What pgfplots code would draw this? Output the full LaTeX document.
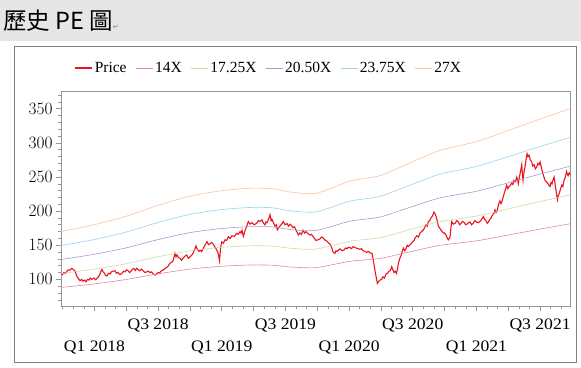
\documentclass[border=0pt]{standalone}
\usepackage{fontspec}
\setmainfont{Liberation Serif}
\newfontfamily\cjk{Noto Sans CJK TC}
\newfontfamily\tickfont{Liberation Serif}[FakeStretch=1.1]
\newfontfamily\symfont{DejaVu Sans}
\usepackage{pgfplots}
\usepackage{pgfplotstable}
\pgfplotsset{compat=1.18}
\definecolor{barbg}{RGB}{230,230,230}
\definecolor{framegray}{RGB}{128,128,128}
\definecolor{axisgray}{RGB}{150,150,150}
\definecolor{pricered}{RGB}{235,20,30}
\definecolor{cA}{RGB}{222,140,155}
\definecolor{cB}{RGB}{208,218,160}
\definecolor{cC}{RGB}{165,155,210}
\definecolor{cD}{RGB}{155,210,235}
\definecolor{cE}{RGB}{248,195,165}

\pgfplotstableread{
x        pA     pB     pC     pD     pE
2017.737 88.15  108.61 129.07 149.54 170.0
2017.996 93.33  115.00 136.67 158.33 180.0
2018.240 99.56  122.67 145.78 168.89 192.0
2018.491 107.85 132.89 157.93 182.96 208.0
2018.750 115.11 141.83 168.56 195.28 222.0
2019.002 119.26 146.94 174.63 202.31 230.0
2019.222 121.07 149.18 177.29 205.39 233.5
2019.394 120.81 148.86 176.91 204.95 233.0
2019.536 118.22 145.67 173.11 200.56 228.0
2019.740 117.19 144.39 171.59 198.80 226.0
2020.007 126.52 155.89 185.26 214.63 244.0
2020.243 130.67 161.00 191.33 221.67 252.0
2020.494 141.04 173.78 206.52 239.26 272.0
2020.714 149.85 184.64 219.43 254.21 289.0
2021.005 156.59 192.94 229.30 265.65 302.0
2021.248 164.89 203.17 241.44 279.72 318.0
2021.500 173.70 214.03 254.35 294.68 335.0
2021.735 181.48 223.61 265.74 307.87 350.0
}\bands

\begin{document}
\begin{tikzpicture}
\useasboundingbox (0pt,0pt) rectangle (581pt,367pt);
\fill[barbg] (0pt,326pt) rectangle (581pt,367pt);
\node[anchor=base west, inner sep=0pt, font=\cjk\fontsize{23.5}{23.5}\selectfont] at (3pt,337pt) {歷史 PE 圖{\symfont\fontsize{7}{7}\selectfont\color{gray}↵}};
\draw[framegray, line width=0.8pt] (14pt,5pt) rectangle (576pt,321pt);
\begin{axis}[
  at={(61pt,61pt)}, anchor=south west,
  scale only axis, width=509pt, height=215pt,
  xmin=2017.737, xmax=2021.735, ymin=61, ymax=376,
  axis line style={axisgray, line width=0.8pt},
  tick style={axisgray, line width=0.6pt},
  tick align=outside, major tick length=5pt, minor tick length=3pt,
  xtick pos=left, ytick pos=left,
  xtick={2018,2018.25,2018.5,2018.75,2019,2019.25,2019.5,2019.75,2020,2020.25,2020.5,2020.75,2021,2021.25,2021.5},
  xticklabels={{\strut\\Q1 2018},{},{\strut Q3 2018},{},{\strut\\Q1 2019},{},{\strut Q3 2019},{},{\strut\\Q1 2020},{},{\strut Q3 2020},{},{\strut\\Q1 2021},{},{\strut Q3 2021}},
  minor xtick={2017.75,2017.8333,2017.9167,2018.0833,2018.1667,2018.3333,2018.4167,2018.5833,2018.6667,2018.8333,2018.9167,2019.0833,2019.1667,2019.3333,2019.4167,2019.5833,2019.6667,2019.8333,2019.9167,2020.0833,2020.1667,2020.3333,2020.4167,2020.5833,2020.6667,2020.8333,2020.9167,2021.0833,2021.1667,2021.3333,2021.4167,2021.5833,2021.6667},
  ytick={100,150,200,250,300,350},
  minor ytick={70,80,90,110,120,130,140,160,170,180,190,210,220,230,240,260,270,280,290,310,320,330,340,360,370},
  xticklabel style={align=center, font=\tickfont\fontsize{16}{21.5}\selectfont, text=black, inner sep=3.5pt},
  yticklabel style={font=\tickfont\fontsize{16}{16}\selectfont, text=black},
  legend style={at={(0.4085,1.107)}, anchor=center, draw=none, fill=none,
    legend columns=6, font=\rmfamily\fontsize{15.5}{16}\selectfont,
    /tikz/every even column/.append style={column sep=7pt}},
  legend image code/.code={\draw[#1] (0pt,0pt) -- (17pt,0pt);},
]
\addplot[pricered, line width=1.1pt] coordinates {
(2017.737,108.8) (2017.748,107) (2017.760,110) (2017.772,109) (2017.784,112) (2017.796,114) (2017.808,113.7) (2017.820,116) (2017.831,115) (2017.847,112)
(2017.855,108) (2017.863,104) (2017.875,101) (2017.886,98) (2017.898,100) (2017.910,97.5) (2017.922,99) (2017.933,96.5) (2017.945,100) (2017.957,99) (2017.968,102) (2017.980,100)
(2017.996,102) (2018.008,99.5) (2018.020,101.4) (2018.032,104) (2018.043,108) (2018.051,112) (2018.059,114.7) (2018.067,111) (2018.075,110) (2018.086,106) (2018.098,105)
(2018.110,109) (2018.122,108) (2018.133,111) (2018.145,112) (2018.161,112.6) (2018.173,109) (2018.185,110) (2018.200,107) (2018.216,108.8) (2018.228,112) (2018.240,111)
(2018.252,114) (2018.263,113) (2018.275,110) (2018.287,112) (2018.298,115) (2018.310,116) (2018.320,113) (2018.332,116.2) (2018.345,114) (2018.357,112.6) (2018.369,115) (2018.381,113)
(2018.396,110) (2018.412,111.2) (2018.424,112) (2018.436,110) (2018.448,111) (2018.460,108) (2018.475,106.3) (2018.487,108) (2018.499,110) (2018.510,109) (2018.522,112)
(2018.538,113.7) (2018.550,115) (2018.562,117) (2018.577,119) (2018.593,123.5) (2018.605,125) (2018.617,127) (2018.625,133) (2018.632,138.2) (2018.640,133) (2018.648,136)
(2018.660,132) (2018.672,131) (2018.684,128) (2018.695,130.9) (2018.710,134) (2018.724,135.7) (2018.737,131) (2018.750,133) (2018.762,135) (2018.774,138.2) (2018.782,141) (2018.789,144)
(2018.797,149) (2018.805,145.6) (2018.813,143) (2018.821,141) (2018.832,143) (2018.842,140.6) (2018.855,146) (2018.868,150) (2018.876,153) (2018.884,155.3) (2018.895,151) (2018.907,152)
(2018.920,154) (2018.933,151.5) (2018.944,148) (2018.954,145) (2018.963,142) (2018.972,138) (2018.982,127.4) (2018.990,145) (2018.999,155) (2019.012,153) (2019.025,158)
(2019.038,157) (2019.051,162.6) (2019.065,160) (2019.080,164) (2019.098,163) (2019.117,167.6) (2019.130,166) (2019.143,170) (2019.151,168) (2019.159,172) (2019.165,166) (2019.170,163)
(2019.180,170) (2019.190,175) (2019.200,180) (2019.208,184.7) (2019.222,181) (2019.237,183) (2019.255,180) (2019.274,182.3) (2019.287,186) (2019.300,185) (2019.316,187.2)
(2019.328,182) (2019.339,179.9) (2019.347,184) (2019.355,183) (2019.367,188) (2019.379,194.6) (2019.387,186) (2019.394,188) (2019.406,183) (2019.418,178) (2019.428,180) (2019.436,172.5)
(2019.447,176) (2019.457,178) (2019.470,181) (2019.483,184.7) (2019.497,180) (2019.512,182) (2019.524,178) (2019.536,180.9) (2019.547,179) (2019.559,176) (2019.571,177) (2019.583,172)
(2019.592,169) (2019.601,165) (2019.614,168) (2019.626,166) (2019.638,172) (2019.650,168) (2019.661,170) (2019.677,167) (2019.693,165) (2019.705,166) (2019.716,163)
(2019.728,160) (2019.740,157) (2019.755,158) (2019.771,159.3) (2019.783,162) (2019.795,161) (2019.807,158) (2019.819,157) (2019.835,154) (2019.850,151.5) (2019.862,147) (2019.874,140)
(2019.889,138.2) (2019.897,142) (2019.905,141) (2019.917,143) (2019.929,144.6) (2019.945,142) (2019.960,143) (2019.972,146) (2019.984,145) (2019.995,147) (2020.007,146.5)
(2020.019,145) (2020.031,148) (2020.043,147) (2020.054,146) (2020.070,145) (2020.086,144.1) (2020.098,145) (2020.109,142) (2020.124,141) (2020.138,139.5) (2020.151,141) (2020.164,139)
(2020.180,138) (2020.188,130) (2020.196,121) (2020.204,112) (2020.211,105) (2020.222,94.1) (2020.232,97) (2020.243,99) (2020.255,100) (2020.266,103.8)
(2020.278,102) (2020.290,108) (2020.302,109) (2020.313,112) (2020.324,113) (2020.335,118.6) (2020.344,114) (2020.353,110) (2020.362,112) (2020.372,108.8) (2020.380,115) (2020.387,123.5)
(2020.397,130) (2020.408,135) (2020.417,141) (2020.426,146) (2020.437,142) (2020.447,145) (2020.456,150) (2020.465,148) (2020.476,150) (2020.486,152) (2020.498,155) (2020.510,157)
(2020.520,161) (2020.531,164) (2020.545,162) (2020.557,168) (2020.570,170) (2020.583,172.5) (2020.594,176) (2020.604,180) (2020.614,178) (2020.622,184.7) (2020.633,186) (2020.643,190)
(2020.655,193) (2020.667,198.5) (2020.675,196) (2020.683,192) (2020.692,186) (2020.701,178) (2020.712,175) (2020.722,172) (2020.731,170) (2020.740,168) (2020.750,168) (2020.761,165)
(2020.770,161) (2020.779,158) (2020.786,160) (2020.793,162) (2020.800,176) (2020.806,184.7) (2020.819,181) (2020.832,182) (2020.845,186) (2020.856,185) (2020.868,180) (2020.879,182)
(2020.891,185) (2020.903,183.5) (2020.915,180) (2020.926,181) (2020.938,183) (2020.950,184) (2020.962,180) (2020.973,182) (2020.988,186) (2021.002,184) (2021.015,183) (2021.028,185)
(2021.041,188) (2021.054,192) (2021.065,188) (2021.075,186) (2021.085,182) (2021.094,184) (2021.105,188) (2021.115,190) (2021.122,193) (2021.130,195) (2021.138,197) (2021.146,201.9)
(2021.154,198) (2021.162,200) (2021.174,210) (2021.185,215) (2021.193,211) (2021.201,214) (2021.209,220) (2021.217,225) (2021.228,232) (2021.238,238) (2021.247,233) (2021.256,236)
(2021.267,238) (2021.277,241) (2021.286,239) (2021.295,245) (2021.306,243) (2021.317,250) (2021.323,246) (2021.329,240) (2021.336,248) (2021.343,255) (2021.350,262) (2021.356,268)
(2021.362,252) (2021.366,245) (2021.374,258) (2021.382,265) (2021.390,276) (2021.398,284) (2021.405,280) (2021.413,282) (2021.423,275) (2021.434,272) (2021.443,266) (2021.453,268)
(2021.463,262) (2021.474,265) (2021.483,270) (2021.492,268) (2021.500,272) (2021.508,266) (2021.515,260) (2021.527,252) (2021.539,245) (2021.551,243) (2021.563,240) (2021.570,238)
(2021.578,236) (2021.586,242) (2021.594,240) (2021.602,246) (2021.610,250) (2021.616,242) (2021.621,235) (2021.629,226) (2021.636,216.6) (2021.642,222) (2021.649,225) (2021.660,232)
(2021.670,238) (2021.679,236) (2021.688,245) (2021.698,250) (2021.708,258) (2021.714,254) (2021.720,252) (2021.728,256) (2021.735,253.4)
};
\addlegendentry{Price}
\addplot[cA, line width=0.6pt, smooth, tension=0.4] table[x=x, y=pA] {\bands};
\addlegendentry{14X}
\addplot[cB, line width=0.6pt, smooth, tension=0.4] table[x=x, y=pB] {\bands};
\addlegendentry{17.25X}
\addplot[cC, line width=0.6pt, smooth, tension=0.4] table[x=x, y=pC] {\bands};
\addlegendentry{20.50X}
\addplot[cD, line width=0.6pt, smooth, tension=0.4] table[x=x, y=pD] {\bands};
\addlegendentry{23.75X}
\addplot[cE, line width=0.6pt, smooth, tension=0.4] table[x=x, y=pE] {\bands};
\addlegendentry{27X}
\end{axis}
\end{tikzpicture}
\end{document}
